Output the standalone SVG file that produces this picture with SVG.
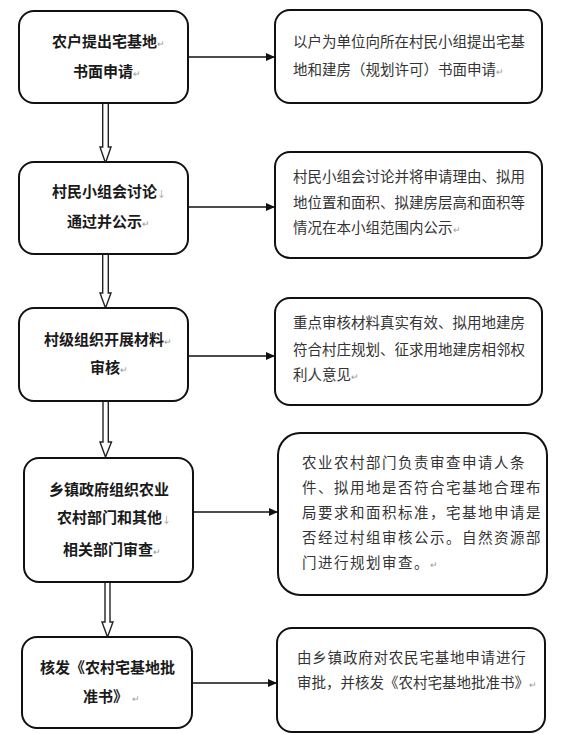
<svg xmlns="http://www.w3.org/2000/svg" width="566" height="734" viewBox="0 0 566 734">
<style>
.box{fill:#fff;stroke:#111;stroke-width:2}
.lt{font-family:"Noto Sans CJK SC","Noto Sans CJK JP",sans-serif;font-size:15px;font-weight:bold;fill:#1a1a1a}
.rt{font-family:"Noto Sans CJK SC","Noto Sans CJK JP",sans-serif;font-size:14.5px;fill:#333}
.pm{font-size:9px;font-weight:normal;fill:#999}
.h{stroke:#111;stroke-width:1.6;fill:none}
.dbl{stroke:#222;stroke-width:1.4;fill:#fff}
</style>
<defs>
<marker id="ah" markerWidth="10" markerHeight="10" refX="9" refY="5" orient="auto" markerUnits="userSpaceOnUse">
<path d="M0,1 L9,5 L0,9 Z" fill="#111"/>
</marker>
</defs>
<rect width="566" height="734" fill="#fff"/>

<g id="connectors">
<line class="h" x1="188" y1="57" x2="275" y2="57" marker-end="url(#ah)"/>
<line class="h" x1="188" y1="207" x2="275" y2="207" marker-end="url(#ah)"/>
<line class="h" x1="188" y1="356" x2="275" y2="356" marker-end="url(#ah)"/>
<line class="h" x1="193" y1="512" x2="278" y2="512" marker-end="url(#ah)"/>
<line class="h" x1="192" y1="683" x2="277" y2="683" marker-end="url(#ah)"/>
<polyline class="dbl" points="102.7,103 102.7,147 100,147 105.5,163 111,147 108.3,147 108.3,103"/>
<polyline class="dbl" points="102.7,254 102.7,293 100,293 105.5,308 111,293 108.3,293 108.3,254"/>
<polyline class="dbl" points="103,401 103,442 100,442 105.5,457 111.5,442 108.3,442 108.3,401"/>
<polyline class="dbl" points="105,582 105,622 102,622 107.5,637 113,622 110,622 110,582"/>
</g>

<g id="n1">
<rect class="box" x="19" y="11" width="169" height="92" rx="15"/>
<text class="lt" x="52" y="47">农户提出宅基地<tspan class="pm">↵</tspan></text>
<text class="lt" x="73" y="77">书面申请<tspan class="pm">↵</tspan></text>
</g>
<g id="n2">
<rect class="box" x="19" y="162" width="169" height="92" rx="15"/>
<text class="lt" x="52" y="197">村民小组会讨论<tspan class="pm">↓</tspan></text>
<text class="lt" x="67" y="227">通过并公示<tspan class="pm">↵</tspan></text>
</g>
<g id="n3">
<rect class="box" x="19" y="308" width="169" height="93" rx="15"/>
<text class="lt" x="44" y="345">村级组织开展材料<tspan class="pm">↵</tspan></text>
<text class="lt" x="90" y="373">审核<tspan class="pm">↵</tspan></text>
</g>
<g id="n4">
<rect class="box" x="24" y="458" width="169" height="124" rx="15"/>
<text class="lt" x="49" y="495">乡镇政府组织农业</text>
<text class="lt" x="57" y="523">农村部门和其他<tspan class="pm">↓</tspan></text>
<text class="lt" x="63" y="555">相关部门审查<tspan class="pm">↵</tspan></text>
</g>
<g id="n5">
<rect class="box" x="22" y="637" width="170" height="91" rx="15"/>
<text class="lt" x="40" y="673">核发《农村宅基地批</text>
<text class="lt" x="83" y="702">准书》<tspan class="pm" dx="4">↵</tspan></text>
</g>

<g id="r1">
<rect class="box" x="275" y="10" width="267" height="93" rx="15"/>
<text class="rt" x="293" y="47">以户为单位向所在村民小组提出宅基</text>
<text class="rt" x="293" y="75">地和建房（规划许可）书面申请<tspan class="pm">↵</tspan></text>
</g>
<g id="r2">
<rect class="box" x="275" y="152" width="267" height="106" rx="15"/>
<text class="rt" x="293" y="182">村民小组会讨论并将申请理由、拟用</text>
<text class="rt" x="293" y="208">地位置和面积、拟建房层高和面积等</text>
<text class="rt" x="293" y="233">情况在本小组范围内公示<tspan class="pm">↵</tspan></text>
</g>
<g id="r3">
<rect class="box" x="275" y="298" width="267" height="107" rx="15"/>
<text class="rt" x="293" y="328">重点审核材料真实有效、拟用地建房</text>
<text class="rt" x="293" y="355">符合村庄规划、征求用地建房相邻权</text>
<text class="rt" x="293" y="380">利人意见<tspan class="pm">↵</tspan></text>
</g>
<g id="r4">
<rect class="box" x="278" y="433" width="269" height="162" rx="22"/>
<text class="rt" x="302" y="468" letter-spacing="1.5">农业农村部门负责审查申请人条</text>
<text class="rt" x="302" y="493" letter-spacing="1.5">件、拟用地是否符合宅基地合理布</text>
<text class="rt" x="302" y="518" letter-spacing="1.5">局要求和面积标准，宅基地申请是</text>
<text class="rt" x="302" y="543" letter-spacing="1.5">否经过村组审核公示。自然资源部</text>
<text class="rt" x="302" y="568" letter-spacing="1.5">门进行规划审查。<tspan class="pm">↵</tspan></text>
</g>
<g id="r5">
<rect class="box" x="277" y="628" width="268" height="104" rx="15"/>
<text class="rt" x="297" y="663" letter-spacing="0.8">由乡镇政府对农民宅基地申请进行</text>
<text class="rt" x="297" y="688">审批，并核发《农村宅基地批准书》<tspan class="pm">↵</tspan></text>
</g>
</svg>
